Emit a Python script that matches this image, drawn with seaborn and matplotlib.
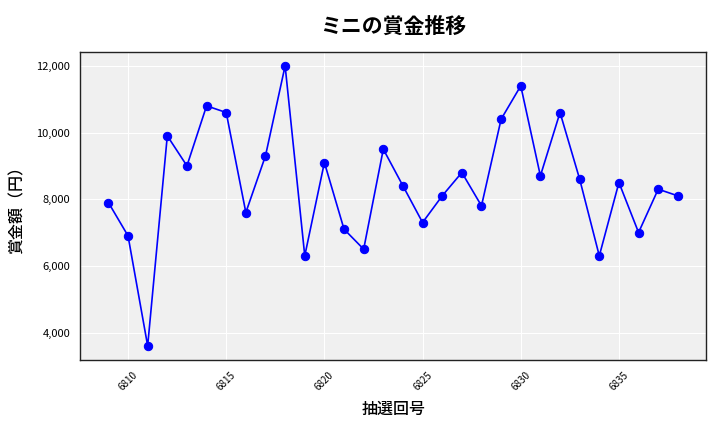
import matplotlib
matplotlib.use("Agg")
import matplotlib.pyplot as plt
import matplotlib.ticker as mticker
import seaborn as sns
import pandas as pd

# draw numbers and prize amounts
draws = list(range(6809, 6839))
prizes = [7900, 6900, 3600, 9900, 9000, 10800, 10600, 7600, 9300, 12000,
          6300, 9100, 7100, 6500, 9500, 8400, 7300, 8100, 8800, 7800,
          10400, 11400, 8700, 10600, 8600, 6300, 8500, 7000, 8300, 8100]

df = pd.DataFrame({"draw": draws, "prize": prizes})

sns.set_style("darkgrid", {"axes.facecolor": "#f0f0f0", "axes.edgecolor": "#222222",
                           "grid.color": "white", "text.color": "black",
                           "axes.labelcolor": "black", "xtick.color": "black",
                           "ytick.color": "black"})
plt.rcParams['font.family'] = ['Noto Sans CJK JP', 'DejaVu Sans']

fig, ax = plt.subplots(figsize=(7.2, 4.32), dpi=100)
sns.lineplot(data=df, x="draw", y="prize", ax=ax, color="blue",
             marker="o", markersize=6, markeredgecolor="blue", linewidth=1.2)

ax.set_title("ミニの賞金推移", fontsize=15, fontweight="bold", pad=14)
ax.set_xlabel("抽選回号", fontsize=11.5, fontweight="medium", labelpad=6)
ax.set_ylabel("賞金額（円）", fontsize=11.5, fontweight="medium", labelpad=8)
ax.xaxis.set_major_locator(mticker.MultipleLocator(5))
ax.yaxis.set_major_formatter(mticker.FuncFormatter(lambda v, p: f"{int(v):,}"))
ax.tick_params(axis="x", labelrotation=45, labelsize=7, length=3.5)
ax.tick_params(axis="y", labelsize=8, length=3.5)
for s in ax.spines.values():
    s.set_visible(True)
    s.set_linewidth(1.0)

fig.subplots_adjust(left=0.111, right=0.981, top=0.880, bottom=0.167)
plt.savefig("out.png", dpi=100)
plt.close()
